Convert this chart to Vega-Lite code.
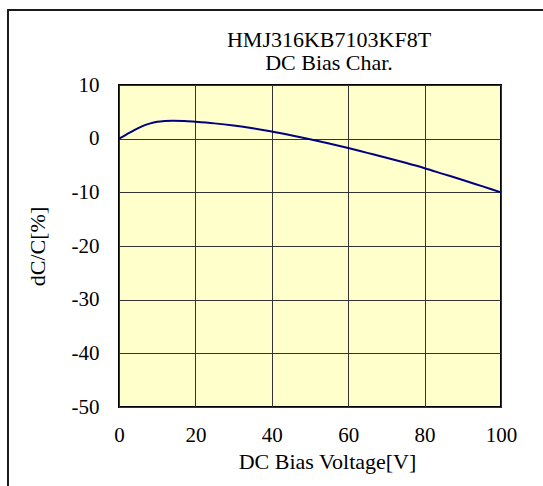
{
  "$schema": "https://vega.github.io/schema/vega-lite/v6.json",
  "autosize": "none",
  "width": 382,
  "height": 322,
  "padding": {"left": 119, "top": 85, "right": 42, "bottom": 79},
  "background": "white",
  "config": {
    "font": "Liberation Serif",
    "view": {"fill": "#FFFFCC", "stroke": "#000000", "strokeWidth": 2},
    "axis": {
      "domain": false,
      "grid": true,
      "gridColor": "#333333",
      "gridWidth": 1,
      "gridOpacity": 1,
      "ticks": false,
      "labelFlush": false,
      "labelFont": "Liberation Serif",
      "labelFontSize": 21,
      "labelColor": "#000000",
      "titleFont": "Liberation Serif",
      "titleFontSize": 22,
      "titleFontWeight": "normal",
      "titleColor": "#000000"
    }
  },
  "title": {
    "text": ["HMJ316KB7103KF8T", "DC Bias Char."],
    "font": "Liberation Serif",
    "fontSize": 22,
    "fontWeight": "normal",
    "color": "#000000",
    "anchor": "middle",
    "frame": "group",
    "lineHeight": 23,
    "offset": -66,
    "dx": 19
  },
  "layer": [
    {
      "data": {
        "values": [
          {"v": 0, "dc": 0.0},
          {"v": 2, "dc": 0.8},
          {"v": 4, "dc": 1.6},
          {"v": 6, "dc": 2.3},
          {"v": 8, "dc": 2.8},
          {"v": 10, "dc": 3.15},
          {"v": 12, "dc": 3.3},
          {"v": 14, "dc": 3.35},
          {"v": 17, "dc": 3.3},
          {"v": 20, "dc": 3.15},
          {"v": 25, "dc": 2.85},
          {"v": 30, "dc": 2.45},
          {"v": 35, "dc": 1.95},
          {"v": 40, "dc": 1.35},
          {"v": 45, "dc": 0.65},
          {"v": 50, "dc": -0.1},
          {"v": 55, "dc": -0.9},
          {"v": 60, "dc": -1.75},
          {"v": 65, "dc": -2.65},
          {"v": 70, "dc": -3.55},
          {"v": 75, "dc": -4.5},
          {"v": 80, "dc": -5.5},
          {"v": 85, "dc": -6.6},
          {"v": 90, "dc": -7.7},
          {"v": 95, "dc": -8.85},
          {"v": 100, "dc": -10.0}
        ]
      },
      "mark": {"type": "line", "color": "#000080", "strokeWidth": 2, "interpolate": "monotone"},
      "encoding": {
        "x": {
          "field": "v",
          "type": "quantitative",
          "scale": {"domain": [0, 100], "nice": false, "zero": false},
          "axis": {"values": [0, 20, 40, 60, 80, 100], "labelPadding": 17, "title": "DC Bias Voltage[V]", "titlePadding": 6, "titleX": 208}
        },
        "y": {
          "field": "dc",
          "type": "quantitative",
          "scale": {"domain": [-50, 10], "nice": false, "zero": false},
          "axis": {
            "values": [-50, -40, -30, -20, -10, 0, 10],
            "labelExpr": "datum.value < 0 ? '-' + abs(datum.value) : '' + datum.value",
            "labelPadding": 20,
            "title": "dC/C[%]",
            "titlePadding": 22
          }
        }
      }
    },
    {
      "data": {"values": [{}]},
      "mark": {"type": "rule", "color": "#1a1a1a", "strokeWidth": 2, "clip": false},
      "encoding": {
        "x": {"datum": -29.06, "type": "quantitative"},
        "y": {"datum": 23.98, "type": "quantitative"},
        "y2": {"datum": -70}
      }
    },
    {
      "data": {"values": [{}]},
      "mark": {"type": "rule", "color": "#1a1a1a", "strokeWidth": 2, "clip": false},
      "encoding": {
        "x": {"datum": -29.3, "type": "quantitative"},
        "x2": {"datum": 115},
        "y": {"datum": 23.98, "type": "quantitative"}
      }
    }
  ]
}
